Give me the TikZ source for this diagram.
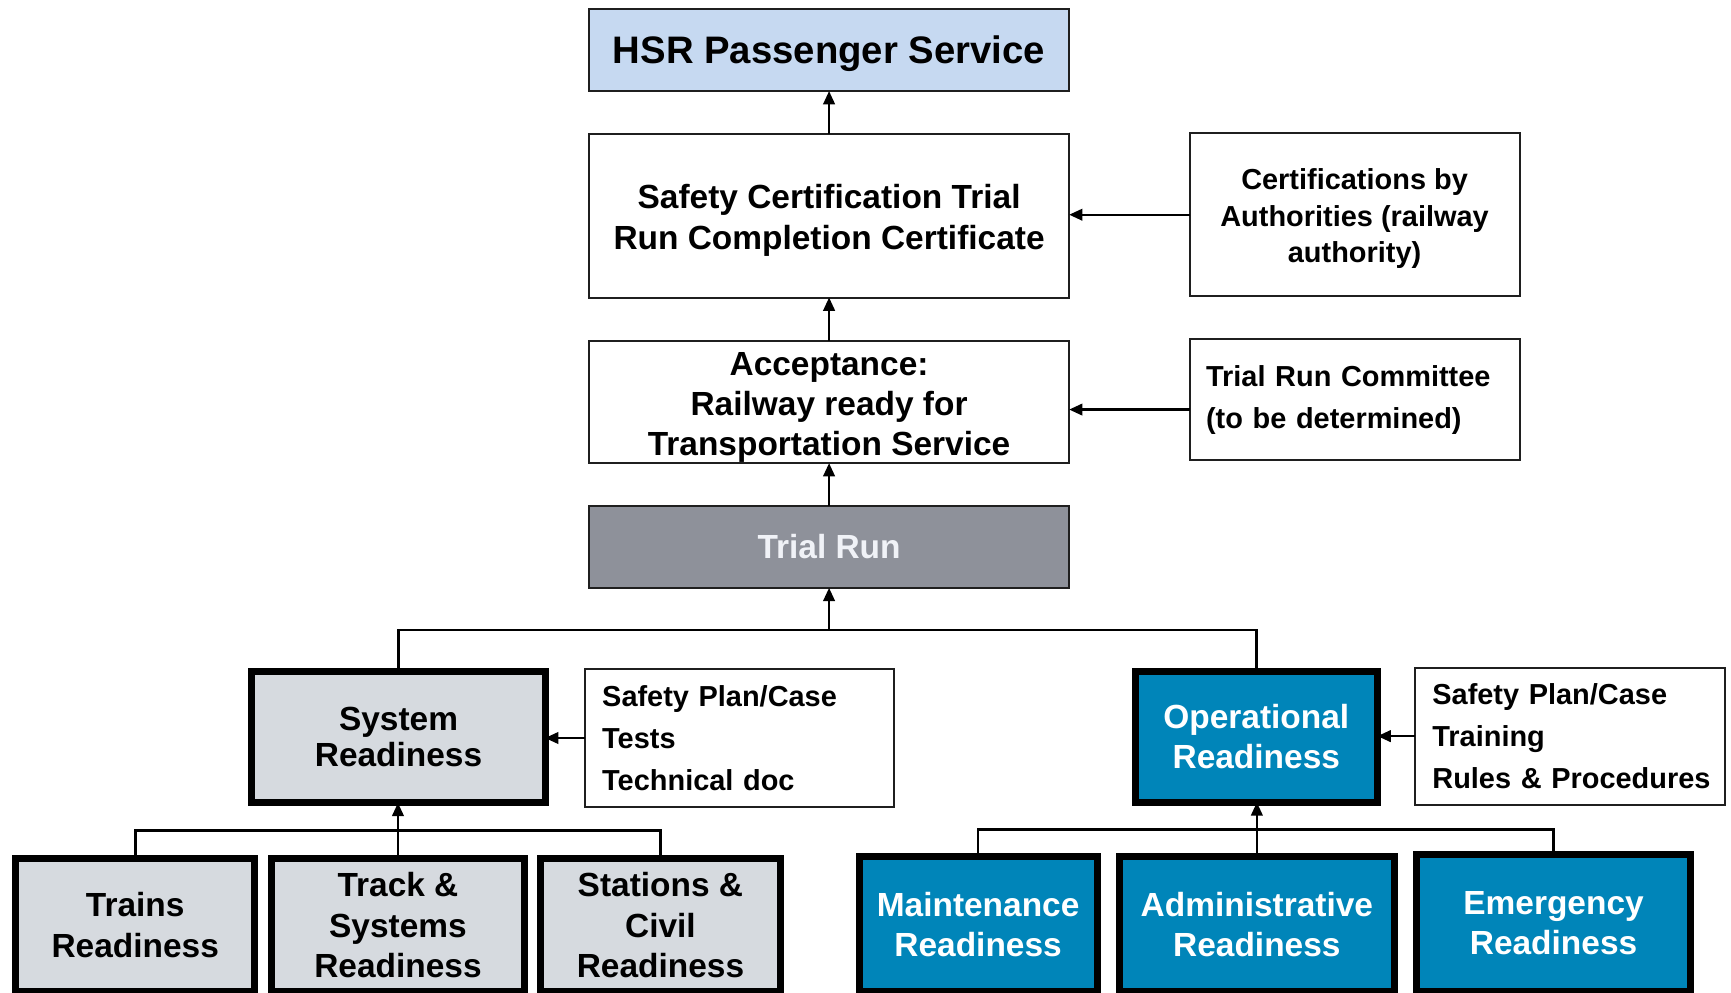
\documentclass[tikz,border=0pt]{standalone}
\usepackage{fontspec}
\setmainfont{Liberation Sans}
\usetikzlibrary{arrows.meta}
\definecolor{hsrblue}{RGB}{198,217,241}
\definecolor{trialgray}{RGB}{142,145,154}
\definecolor{sysgray}{RGB}{214,218,223}
\definecolor{opblue}{RGB}{0,133,185}
\definecolor{trialtext}{RGB}{240,242,247}
\newcommand\fbig{\fontsize{34.7}{40}\selectfont\bfseries}
\newcommand\fmain{\fontsize{30.3}{36.5}\selectfont\bfseries}
\newcommand\fsys{\fontsize{30.3}{33}\selectfont\bfseries}
\newcommand\fside{\fontsize{26.2}{33}\selectfont\bfseries}
\newcommand\flist{\fontsize{26.2}{38}\selectfont\bfseries}
\newcommand\lowr[1]{\rule{0pt}{#1}}
\begin{document}
\begin{tikzpicture}[x=1pt,y=-1pt,
  thinbox/.style={draw=black!88, line width=1.8pt, inner sep=0pt, outer sep=0pt, align=center, font=\fmain},
  listbox/.style={draw=black!88, line width=1.8pt, inner ysep=0pt, outer sep=0pt, align=left, font=\flist},
  thickbox/.style={draw=black, line width=6.4pt, inner sep=0pt, outer sep=0pt, align=center, font=\fmain},
  sysbox/.style={thickbox, fill=sysgray},
  opbox/.style={thickbox, fill=opblue, text=white},
  arr/.style={line width=2pt, -{Triangle[length=12pt,width=10.5pt]}},
  link/.style={line width=2.4pt}
]
\useasboundingbox[fill=white] (0,0) rectangle (1568,898.6);

% top column
\node[thinbox, fill=hsrblue, font=\fbig, minimum width=435pt, minimum height=74pt] (hsr) at (751,45.5) {\lowr{0.88em}HSR Passenger Service};
\node[thinbox, minimum width=435pt, minimum height=148pt] (cert) at (751,195.5) {\lowr{1em}Safety Certification Trial\\Run Completion Certificate};
\node[thinbox, font=\fside, minimum width=299pt, minimum height=148pt] (auth) at (1227,194.5) {\lowr{1em}Certifications by\\Authorities (railway\\authority)};
\node[thinbox, minimum width=435pt, minimum height=111pt] (acc) at (751,364) {\lowr{1.02em}Acceptance:\\Railway ready for\\Transportation Service};
\node[listbox, inner xsep=15pt, text width=269pt, minimum height=109pt] (comm) at (1227,362) {\mbox{Trial Run Committee}\\\mbox{(to be determined)}};
\node[thinbox, fill=trialgray, text=trialtext, minimum width=435pt, minimum height=74pt] (trial) at (751,495.5) {Trial Run};

% second level
\node[sysbox, font=\fsys, minimum width=265.6pt, minimum height=119pt] (sys) at (361,667.75) {System\\Readiness};
\node[listbox, inner xsep=16pt, text width=248pt, minimum height=125pt] (plan1) at (669.5,668.5) {\mbox{Safety Plan/Case}\\Tests\\\mbox{Technical doc}};
\node[opbox, minimum width=219.6pt, minimum height=118.6pt] (oper) at (1138,667.5) {Operational\\Readiness};
\node[listbox, inner xsep=16pt, text width=249pt, minimum height=124pt] (plan2) at (1422,666.8) {\mbox{Safety Plan/Case}\\Training\\\mbox{Rules \& Procedures}};

% bottom level
\node[sysbox, minimum width=216.6pt, minimum height=120.6pt] (trains) at (122.5,838) {Trains\\Readiness};
\node[sysbox, minimum width=228.6pt, minimum height=120.6pt] (track) at (360.5,838) {Track \&\\Systems\\Readiness};
\node[sysbox, minimum width=217.1pt, minimum height=120.6pt] (stations) at (598.25,838) {Stations \&\\Civil\\Readiness};
\node[opbox, minimum width=215.6pt, minimum height=122.1pt] (maint) at (886,837.25) {Maintenance\\Readiness};
\node[opbox, minimum width=248.6pt, minimum height=122.1pt] (admin) at (1138.5,837.25) {Administrative\\Readiness};
\node[opbox, minimum width=248.1pt, minimum height=124.6pt] (emerg) at (1407.25,836) {Emergency\\Readiness};

% connectors, top column
\draw[arr] (cert.north) -- (hsr.south);
\draw[arr] (acc.north) -- (cert.south);
\draw[arr] (trial.north) -- (acc.south);
\draw[arr] (auth.west) -- (auth.west -| cert.east);
\draw[arr] ([yshift=-9pt]comm.west) -- ([yshift=-9pt]comm.west -| acc.east);

% tree under trial run
\coordinate (j1) at (751,570.7);
\draw[link] (sys.north) |- (j1) -| (oper.north);
\draw[arr] (j1) -- (trial.south);
\draw[arr] (plan1.west) -- (plan1.west -| sys.east);
\draw[arr] (plan2.west) -- (plan2.west -| oper.east);

% system subtree
\coordinate (j2) at (360.5,752.4);
\draw[link] (trains.north) |- (j2) -| (stations.north);
\draw[arr] (track.north) -- (track.north |- sys.south);

% operational subtree
\coordinate (j3) at (1138.5,751.5);
\draw[link] (maint.north) |- (j3) -| (emerg.north);
\draw[arr] (admin.north) -- (admin.north |- oper.south);
\end{tikzpicture}
\end{document}
